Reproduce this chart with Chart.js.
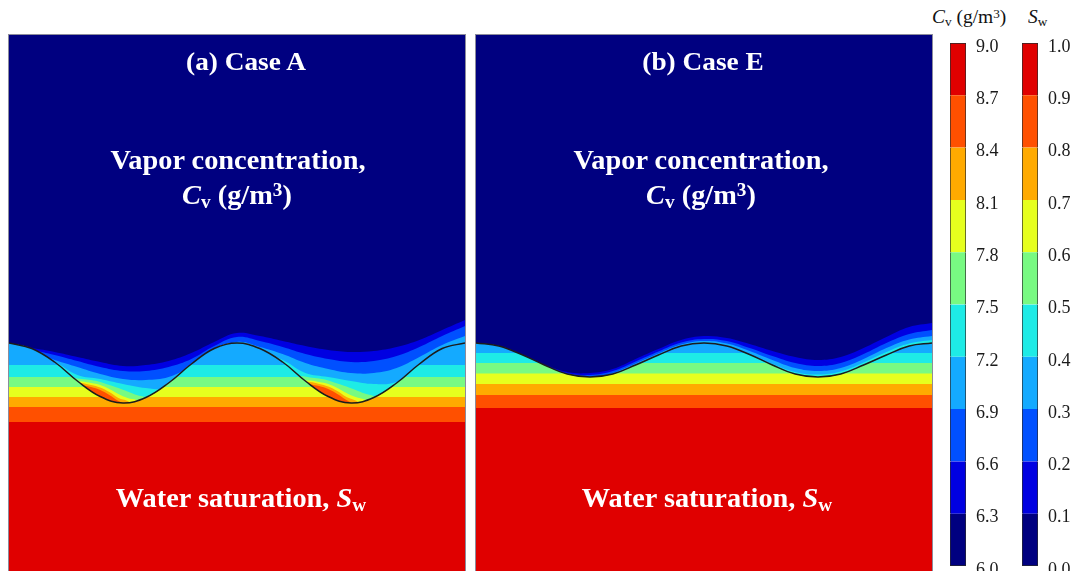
<!DOCTYPE html>
<html>
<head>
<meta charset="utf-8">
<script src="https://cdn.jsdelivr.net/npm/chart.js@4.4.1/dist/chart.umd.min.js"></script>
<style>
  html, body { margin: 0; padding: 0; background: #fff; }
  body { position: relative; width: 1078px; height: 571px; overflow: hidden;
         font-family: "Liberation Serif", "Times New Roman", serif; }
  .panel { position: absolute; top: 35px; width: 456px; height: 536px; outline: 1px solid #8c8c9c; }
  .bar { position: absolute; top: 36px; height: 535px; }
  .t { position: absolute; color: #fff; font-weight: bold; white-space: nowrap; line-height: 1;
       transform: translateX(-50%) scaleX(1.05); }
  .h { position: absolute; color: #111; white-space: nowrap; line-height: 1; font-size: 18px;
       transform-origin: left center; transform: scaleX(1.08); }
  .sub { font-size: 0.68em; position: relative; top: 0.22em; }
  .sup { font-size: 0.68em; position: relative; top: -0.45em; }
</style>
</head>
<body>
<canvas id="panelA" class="panel" width="456" height="536" style="left:9px"></canvas>
<canvas id="panelE" class="panel" width="456" height="536" style="left:476px"></canvas>
<canvas id="barCv" class="bar" width="70" height="535" style="left:945px"></canvas>
<canvas id="barSw" class="bar" width="61" height="535" style="left:1017px"></canvas>

<div class="t" style="left:246px;top:49px;font-size:26px">(a) Case A</div>
<div class="t" style="left:238px;top:147px;font-size:27px">Vapor concentration,</div>
<div class="t" style="left:237px;top:182px;font-size:27px"><i>C</i><span class="sub">v</span> (g/m<span class="sup">3</span>)</div>
<div class="t" style="left:241px;top:485px;font-size:27px">Water saturation, <i>S</i><span class="sub">w</span></div>

<div class="t" style="left:703px;top:49px;font-size:26px">(b) Case E</div>
<div class="t" style="left:701px;top:147px;font-size:27px">Vapor concentration,</div>
<div class="t" style="left:701px;top:182px;font-size:27px"><i>C</i><span class="sub">v</span> (g/m<span class="sup">3</span>)</div>
<div class="t" style="left:707px;top:485px;font-size:27px">Water saturation, <i>S</i><span class="sub">w</span></div>

<div class="h" style="left:932px;top:8px"><i>C</i><span class="sub">v</span> (g/m<span class="sup">3</span>)</div>
<div class="h" style="left:1028px;top:8px"><i>S</i><span class="sub">w</span></div>

<script>
// ---- contour levels and their colours ----
const cvLevels = [6.0, 6.3, 6.6, 6.9, 7.2, 7.5, 7.8, 8.1, 8.4, 8.7, 9.0];
const swLevels = [0.0, 0.1, 0.2, 0.3, 0.4, 0.5, 0.6, 0.7, 0.8, 0.9, 1.0];
const palette = ['#000080', '#0000E1', '#0050FF', '#14AAFF', '#1EEBE6',
                 '#78FA82', '#E6FF1E', '#FFAA00', '#FF5000', '#E00000'];

// ---- positions along each panel (% of panel width) ----
const xPos = [0, 5, 10, 15, 20, 25, 30, 35, 40, 45, 50, 55, 60, 65, 70, 75, 80, 85, 90, 95, 100];
const pocketX = [14, 16, 18, 20, 22, 24, 26, 28, 30, 32, 64, 66, 68, 70, 72, 74, 76, 78, 80, 82];

// ---- Case A ----
// wavy water surface, height above the bottom of the view
const caseA_interface = [45.6, 44.5, 41.8, 38.0, 34.9, 33.6, 34.7, 37.6, 41.4, 44.5, 45.6,
                         44.5, 41.8, 38.0, 34.9, 33.6, 34.7, 37.6, 41.4, 44.5, 45.6];
// vapour isolines in the air above the surface
const caseA_cv63 = [45.2, 44.6, 43.8, 42.8, 41.8, 41.0, 41.2, 42.0, 43.6, 45.8, 47.6,
                    47.0, 46.0, 45.0, 44.2, 43.8, 44.0, 44.8, 46.2, 48.2, 50.2];
const caseA_cv66 = [45.0, 44.2, 43.2, 42.0, 40.8, 40.0, 40.0, 40.8, 42.4, 45.0, 46.8,
                    46.0, 44.8, 43.4, 42.4, 41.8, 42.0, 43.0, 44.8, 47.0, 49.0];
const caseA_cv69 = [44.2, 43.8, 42.2, 40.8, 39.4, 38.4, 38.2, 38.8, 41.0, 43.8, 45.8,
                    44.8, 43.4, 41.6, 40.4, 39.6, 39.6, 40.6, 42.8, 45.2, 47.0];
const caseA_cv72 = [43.2, 43.2, 41.8, 39.2, 38.4, 37.4, 36.6, 36.6, 39.8, 43.0, 44.6,
                    43.8, 42.2, 39.6, 38.8, 38.0, 37.4, 37.8, 40.6, 43.8, 45.2];
// humid pocket on the upstream flank of each trough
const caseA_cv75 = [38.6, 38.4, 38.2, 37.8, 37.2, 36.6, 35.9, 35.2, 34.8, 34.3,
                    38.9, 38.7, 38.5, 38.1, 37.5, 36.9, 36.2, 35.5, 35.0, 34.4];
const caseA_cv78 = [38.0, 37.9, 37.6, 37.2, 36.4, 35.4, 34.6, 34.2, 33.4, 33.8,
                    38.0, 38.1, 37.8, 37.4, 36.6, 35.6, 34.8, 34.3, 33.6, 34.0];
const caseA_cv81 = [37.8, 37.6, 37.2, 36.7, 35.8, 34.6, 34.0, 33.0, 33.4, 33.8,
                    37.8, 37.8, 37.4, 36.9, 36.0, 34.8, 34.1, 33.2, 33.4, 33.8];
const caseA_cv84 = [37.6, 37.2, 36.8, 36.2, 35.2, 34.0, 33.2, 32.8, 33.2, 33.6,
                    37.6, 37.3, 37.0, 36.4, 35.4, 34.2, 33.2, 32.8, 33.2, 33.6];
// heights of the saturation isolines Sw = 0.4 ... 0.9 below the surface
const caseA_sw = [41.2, 38.8, 36.8, 34.8, 32.8, 29.8];

// ---- Case E ----
const caseE_interface = [45.6, 45.0, 43.3, 41.2, 39.4, 38.8, 39.4, 41.2, 43.2, 45.0, 45.6,
                         45.0, 43.3, 41.2, 39.4, 38.8, 39.4, 41.2, 43.2, 45.0, 45.6];
const caseE_cv63 = [45.4, 44.8, 43.2, 41.3, 39.8, 39.6, 40.4, 42.4, 44.4, 46.2, 47.0,
                    46.6, 45.4, 44.0, 42.8, 42.2, 42.8, 44.6, 46.8, 48.8, 49.6];
const caseE_cv66 = [45.4, 44.8, 43.2, 41.2, 39.6, 39.2, 40.0, 41.9, 43.9, 45.7, 46.4,
                    46.0, 44.6, 43.0, 41.6, 41.0, 41.6, 43.4, 45.6, 47.4, 48.2];
const caseE_cv69 = [45.4, 44.8, 43.1, 41.0, 39.2, 38.6, 39.6, 41.5, 43.5, 45.3, 46.0,
                    45.5, 44.0, 42.2, 40.6, 40.0, 40.6, 42.4, 44.6, 46.3, 47.0];
const caseE_cv72 = [45.4, 44.8, 43.1, 41.0, 39.2, 38.6, 39.2, 41.0, 43.0, 44.8, 45.4,
                    44.8, 43.1, 41.4, 39.8, 39.3, 39.9, 41.7, 43.8, 45.5, 46.2];
const caseE_sw = [43.6, 41.6, 39.5, 37.4, 35.2, 32.6];

// view extent (height units) of each panel
const VIEW_TOP = 107.2;
const NONE = 'rgba(0,0,0,0)';

function level(v) { return [{ x: 0, y: v }, { x: 100, y: v }]; }
function series(xs, ys) { return xs.map((x, i) => ({ x: x, y: ys[i] })); }

function buildPanel(id, surface, cvLines, pocketLines, swHeights) {
  const ds = [];
  const add = o => {
    ds.push(Object.assign({ pointRadius: 0, borderWidth: 0, tension: 0.4 }, o));
    return ds.length - 1;
  };
  // wet layers, drawn as horizontal bands under the surface
  add({ data: level(swHeights[0]), fill: 'end', backgroundColor: palette[3], tension: 0 });
  swHeights.forEach((h, i) => add({ data: level(h), fill: 'start', backgroundColor: palette[4 + i], tension: 0 }));
  // dry air above the surface
  const surf = add({ data: series(xPos, surface), fill: 'end', backgroundColor: palette[0] });
  // vapour bands between each isoline and the surface
  cvLines.forEach((ys, i) => add({ data: series(xPos, ys),
    fill: { target: surf, above: palette[1 + i], below: NONE }, backgroundColor: palette[1 + i] }));
  pocketLines.forEach((ys, i) => add({ data: series(pocketX, ys),
    fill: { target: surf, above: palette[5 + i], below: NONE }, backgroundColor: palette[5 + i] }));
  // the surface itself
  add({ data: series(xPos, surface), fill: false, borderColor: '#1c1c1c', borderWidth: 1.5 });
  const n = ds.length;
  ds.forEach((d, i) => { d.order = n - i; });

  new Chart(document.getElementById(id), {
    type: 'line',
    data: { datasets: ds },
    options: {
      responsive: false, animation: false, devicePixelRatio: 1,
      layout: { padding: 0 },
      plugins: { legend: { display: false }, tooltip: { enabled: false } },
      scales: {
        x: { type: 'linear', min: 0, max: 100, display: false },
        y: { type: 'linear', min: 0, max: VIEW_TOP, display: false }
      }
    }
  });
}

buildPanel('panelA', caseA_interface,
  [caseA_cv63, caseA_cv66, caseA_cv69, caseA_cv72],
  [caseA_cv75, caseA_cv78, caseA_cv81, caseA_cv84], caseA_sw);
buildPanel('panelE', caseE_interface,
  [caseE_cv63, caseE_cv66, caseE_cv69, caseE_cv72],
  [], caseE_sw);

function buildColorbar(id, levels, axisWidth) {
  const datasets = palette.map((c, i) => ({
    data: [[levels[i], levels[i + 1]]],
    backgroundColor: c,
    borderColor: '#2a2a2a',
    borderSkipped: false,
    borderWidth: { left: 1, right: 1, top: i === palette.length - 1 ? 1 : 0, bottom: i === 0 ? 1 : 0 }
  }));
  new Chart(document.getElementById(id), {
    type: 'bar',
    data: { labels: [''], datasets: datasets },
    options: {
      responsive: false, animation: false, devicePixelRatio: 1,
      layout: { padding: { left: 5, right: 0, top: 7, bottom: 5 } },
      datasets: { bar: { grouped: false, barPercentage: 1, categoryPercentage: 1 } },
      plugins: { legend: { display: false }, tooltip: { enabled: false } },
      scales: {
        x: { display: false },
        y: {
          position: 'right',
          min: levels[0], max: levels[levels.length - 1],
          grid: { display: false, drawTicks: false },
          border: { display: false },
          afterBuildTicks: s => { s.ticks = levels.map(v => ({ value: v })); },
          afterFit: s => { s.width = axisWidth; s.paddingTop = 0; s.paddingBottom = 0; },
          ticks: {
            padding: 10, labelOffset: 4, color: '#1a1a1a',
            font: { family: 'Liberation Serif', size: 18 },
            callback: v => Number(v).toFixed(1)
          }
        }
      }
    }
  });
}

buildColorbar('barCv', cvLevels, 49);
buildColorbar('barSw', swLevels, 40);
</script>
</body>
</html>
